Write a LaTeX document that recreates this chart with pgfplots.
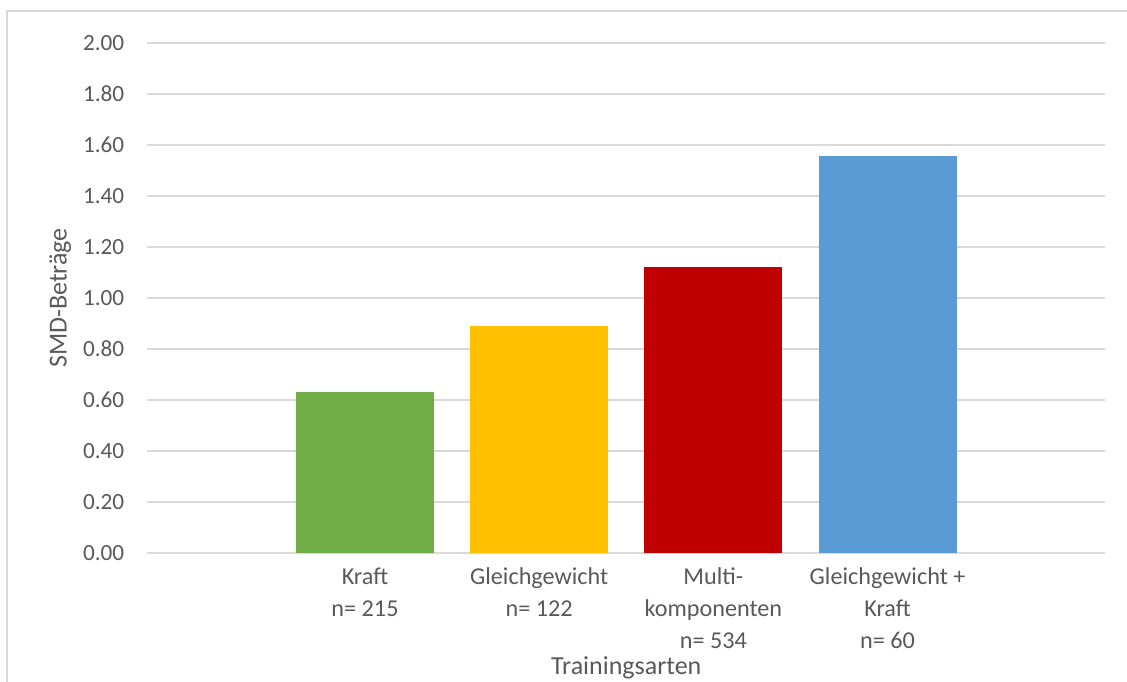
\documentclass[border=0pt]{standalone}
\usepackage{pgfplots}
\pgfplotsset{compat=1.18}
\usepackage{fontspec}
\setmainfont{Carlito}
\definecolor{txt}{HTML}{595959}
\definecolor{grd}{HTML}{D9D9D9}
\definecolor{cgreen}{HTML}{70AD47}
\definecolor{cyellow}{HTML}{FFC000}
\definecolor{cred}{HTML}{C00000}
\definecolor{cblue}{HTML}{5B9BD5}
\begin{document}
\begin{tikzpicture}
\useasboundingbox (0,0) rectangle (563.5pt,340.5pt);
\draw[grd, line width=1pt] (3.5pt,-5pt) -- (3.5pt,335pt) -- (570pt,335pt);
\begin{axis}[
  at={(182.5pt,64pt)}, anchor=origin,
  scale only axis, width=479pt, height=255pt,
  xmin=-1.25, xmax=4.25, ymin=0, ymax=2,
  ytick={0,0.2,...,2.01},
  yticklabel={\pgfmathprintnumber[fixed,fixed zerofill,precision=2]{\tick}},
  /pgf/number format/assume math mode=true,
  axis lines*=left,
  y axis line style={draw=none},
  x axis line style={grd, line width=1pt, -},
  ytick style={draw=none},
  ymajorgrids, grid style={grd, line width=1pt},
  xtick={0,1,2,3},
  xticklabels={{Kraft\\n= 215},{Gleichgewicht\\n= 122},{Multi-\\komponenten\\n= 534},{Gleichgewicht +\\Kraft\\n= 60}},
  xticklabel style={align=center, font=\fontsize{12.1}{16}\selectfont, text=txt, yshift=0.5pt},
  major x tick style={draw=none},
  extra x ticks={-1.25,4.25}, extra x tick labels={},
  extra x tick style={major tick length=5pt, tick style={grd, line width=1pt, draw=grd}, tick align=outside},
  yticklabel style={font=\fontsize{11.6}{14}\selectfont, text=txt, xshift=-8pt},
  ylabel={SMD-Beträge}, ylabel style={at={(axis description cs:0,0.5)}, anchor=center, rotate=0, yshift=43.5pt, font=\fontsize{13}{16}\selectfont, text=txt},
  xlabel={Trainingsarten}, xlabel style={at={(axis description cs:0.5,0)}, anchor=center, yshift=-57.5pt, font=\fontsize{13}{16}\selectfont, text=txt},
  ybar, bar width=69pt, bar shift=0pt,
]
\addplot[fill=cgreen, draw=none] coordinates {(0,0.63)};
\addplot[fill=cyellow, draw=none] coordinates {(1,0.89)};
\addplot[fill=cred, draw=none] coordinates {(2,1.12)};
\addplot[fill=cblue, draw=none] coordinates {(3,1.555)};
\end{axis}
\end{tikzpicture}
\end{document}
